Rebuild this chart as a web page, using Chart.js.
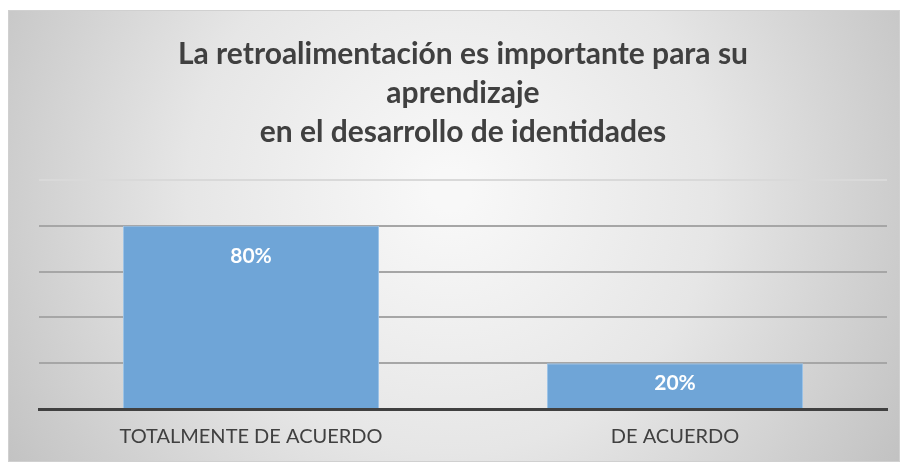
<!DOCTYPE html>
<html>
<head>
<meta charset="utf-8">
<script src="https://cdn.jsdelivr.net/npm/chart.js@4"></script>
<style>
  html, body { margin: 0; padding: 0; background: #fff; }
  #wrap { width: 904px; height: 465px; }
</style>
</head>
<body>
<div id="wrap"><canvas id="feedbackChart" width="904" height="465"></canvas></div>
<script>
const categories = ['TOTALMENTE DE ACUERDO', 'DE ACUERDO'];
const percentValues = [80, 20];
const chartTitle = ['La retroalimentación es importante para su', 'aprendizaje', 'en el desarrollo de identidades'];

// gray gradient panel like the Excel chart area
const panelBackground = {
    id: 'panelBackground',
    beforeDraw(chart) {
        const c = chart.ctx;
        const w = chart.width, h = chart.height;
        c.save();
        c.fillStyle = '#ffffff';
        c.fillRect(0, 0, w, h);
        const g = c.createRadialGradient(450, 190, 20, 450, 190, 560);
        g.addColorStop(0, '#f8f8f8');
        g.addColorStop(0.45, '#e6e6e6');
        g.addColorStop(1, '#bdbdbd');
        c.fillStyle = g;
        c.fillRect(8, 10, w - 12, h - 13);
        c.strokeStyle = '#d0d0d0';
        c.lineWidth = 1;
        c.strokeRect(8.5, 10.5, w - 13, h - 14);
        c.restore();
    }
};

// white labels inside the top of each bar
const barLabels = {
    id: 'barLabels',
    afterDatasetsDraw(chart) {
        const c = chart.ctx;
        const meta = chart.getDatasetMeta(0);
        c.save();
        c.fillStyle = '#ffffff';
        c.font = 'bold 21px Lato';
        c.textAlign = 'center';
        c.textBaseline = 'middle';
        meta.data.forEach((bar, i) => {
            const y = Math.min(bar.y + 30, (bar.y + bar.base) / 2 - 2);
            c.fillText(percentValues[i] + '%', bar.x, y);
        });
        c.restore();
    }
};

const ctx = document.getElementById('feedbackChart').getContext('2d');
new Chart(ctx, {
    type: 'bar',
    data: {
        labels: categories,
        datasets: [{
            data: percentValues,
            backgroundColor: '#6fa5d7',
            borderColor: '#9cc3e7',
            borderWidth: { top: 1, left: 1, right: 1, bottom: 0 },
            barPercentage: 0.604,
            categoryPercentage: 1
        }]
    },
    options: {
        responsive: false,
        animation: false,
        events: [],
        layout: { padding: { left: 39, right: 17, top: 35, bottom: 0 } },
        plugins: {
            legend: { display: false },
            tooltip: { enabled: false },
            title: {
                display: true,
                text: chartTitle,
                color: '#404040',
                font: { family: 'Lato', size: 30, weight: 'bold', lineHeight: 1.3 },
                padding: { top: 0, bottom: 28 }
            }
        },
        scales: {
            x: {
                grid: { display: false, drawTicks: false },
                border: { display: true, color: '#404040', width: 3 },
                ticks: { color: '#404040', font: { family: 'Lato', size: 20 }, padding: 16 }
            },
            y: {
                min: 0,
                max: 100,
                ticks: { display: false, stepSize: 20 },
                border: { display: false },
                grid: {
                    drawTicks: false,
                    lineWidth: 2,
                    color: c => c.tick && c.tick.value === 100 ? '#d9d9d9' : '#a6a6a6'
                }
            }
        }
    },
    plugins: [panelBackground, barLabels]
});
</script>
</body>
</html>
